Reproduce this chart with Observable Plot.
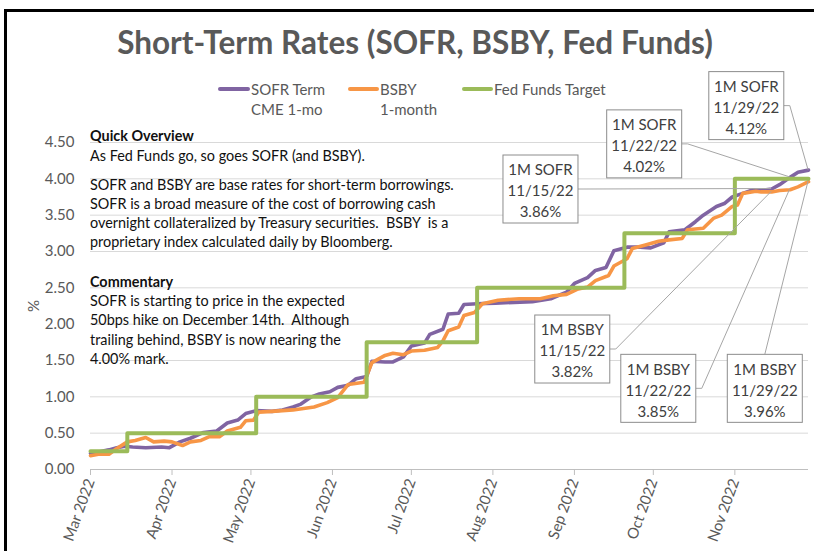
<!DOCTYPE html>
<html>
<head>
<meta charset="utf-8">
<script src="https://cdn.jsdelivr.net/npm/d3@7"></script>
<script src="https://cdn.jsdelivr.net/npm/@observablehq/plot@0.6"></script>
<style>
  html, body { margin: 0; padding: 0; background: #fff; }
  #wrap { position: relative; width: 814px; height: 551px; overflow: hidden; font-family: Lato, "Open Sans", sans-serif; }
  #frame { position: absolute; left: 4px; top: 9px; width: 820px; height: 560px; border-left: 3px solid #000; border-top: 3px solid #000; }
  #title { position: absolute; left: 0; width: 830px; top: 23px; text-align: center; font-size: 31.5px; font-weight: 700; color: #595959; white-space: nowrap; }
  .leg { position: absolute; font-size: 15px; color: #595959; line-height: 20px; white-space: nowrap; }
  .sw { position: absolute; height: 4px; border-radius: 2px; }
  .para { position: absolute; left: 90px; font-size: 14.4px; color: #111; white-space: pre; }
  .para b { font-weight: 700; }
  #chart { position: absolute; left: 0; top: 0; }
</style>
</head>
<body>
<div id="wrap">
  <div id="chart"></div>
  <div id="frame"></div>
  <div id="title">Short-Term Rates (SOFR, BSBY, Fed Funds)</div>
  <div id="legend"></div>
  <div class="para" style="top:126px; line-height:20px;"><b>Quick Overview</b>
As Fed Funds go, so goes SOFR (and BSBY).</div>
  <div class="para" style="top:175px; line-height:19px;">SOFR and BSBY are base rates for short-term borrowings.
SOFR is a broad measure of the cost of borrowing cash
overnight collateralized by Treasury securities.  BSBY  is a
proprietary index calculated daily by Bloomberg.</div>
  <div class="para" style="top:272px; line-height:19.2px;"><b>Commentary</b>
SOFR is starting to price in the expected
50bps hike on December 14th.  Although
trailing behind, BSBY is now nearing the
4.00% mark.</div>
</div>
<script>
// ---------- data ----------
const sofrDates = ["2022-03-01","2022-03-04","2022-03-08","2022-03-11","2022-03-14","2022-03-17","2022-03-22","2022-03-28","2022-03-31",
  "2022-04-04","2022-04-08","2022-04-13","2022-04-18","2022-04-22","2022-04-26","2022-04-29",
  "2022-05-03","2022-05-09","2022-05-13","2022-05-17","2022-05-20","2022-05-24","2022-05-27","2022-05-31",
  "2022-06-03","2022-06-07","2022-06-10","2022-06-14","2022-06-16","2022-06-21","2022-06-24","2022-06-28",
  "2022-07-01","2022-07-06","2022-07-08","2022-07-13","2022-07-15","2022-07-19","2022-07-21","2022-07-26",
  "2022-08-02","2022-08-09","2022-08-16","2022-08-23","2022-08-29",
  "2022-09-01","2022-09-06","2022-09-09","2022-09-13","2022-09-16","2022-09-21","2022-09-26","2022-09-30",
  "2022-10-05","2022-10-07","2022-10-13","2022-10-17","2022-10-20","2022-10-25","2022-10-28","2022-10-31",
  "2022-11-04","2022-11-08","2022-11-11","2022-11-15","2022-11-18","2022-11-22","2022-11-25","2022-11-29"];
const sofrValues = [0.22,0.24,0.27,0.30,0.32,0.31,0.30,0.31,0.30,
  0.38,0.43,0.51,0.53,0.64,0.68,0.77,
  0.81,0.80,0.82,0.86,0.90,1.00,1.04,1.07,
  1.13,1.16,1.25,1.28,1.49,1.48,1.48,1.55,
  1.70,1.74,1.86,1.93,2.14,2.15,2.27,2.28,
  2.29,2.30,2.31,2.35,2.44,
  2.56,2.64,2.74,2.78,3.01,3.06,3.06,3.05,
  3.12,3.27,3.30,3.41,3.50,3.62,3.66,3.75,
  3.80,3.85,3.84,3.86,3.92,4.02,4.09,4.12];

const bsbyDates = ["2022-03-01","2022-03-04","2022-03-08","2022-03-11","2022-03-15","2022-03-18","2022-03-22","2022-03-25","2022-03-29",
  "2022-04-01","2022-04-05","2022-04-08","2022-04-12","2022-04-15","2022-04-19","2022-04-22","2022-04-27","2022-04-29",
  "2022-05-02","2022-05-04","2022-05-09","2022-05-17","2022-05-25","2022-05-30",
  "2022-06-03","2022-06-07","2022-06-13","2022-06-16","2022-06-21","2022-06-24","2022-06-28",
  "2022-07-01","2022-07-06","2022-07-11","2022-07-13","2022-07-15","2022-07-19","2022-07-21","2022-07-25","2022-07-28",
  "2022-08-03","2022-08-11","2022-08-19","2022-08-24","2022-08-29",
  "2022-09-02","2022-09-06","2022-09-09","2022-09-14","2022-09-16","2022-09-21","2022-09-23","2022-09-28",
  "2022-10-03","2022-10-07","2022-10-12","2022-10-14","2022-10-20","2022-10-24","2022-10-27","2022-10-31",
  "2022-11-02","2022-11-04","2022-11-09","2022-11-11","2022-11-15","2022-11-18","2022-11-22","2022-11-25","2022-11-29"];
const bsbyValues = [0.19,0.21,0.21,0.29,0.38,0.40,0.44,0.38,0.39,
  0.38,0.33,0.38,0.40,0.45,0.45,0.53,0.58,0.67,
  0.68,0.79,0.80,0.82,0.86,0.92,
  0.99,1.17,1.20,1.47,1.57,1.60,1.58,
  1.63,1.64,1.68,1.77,1.91,1.96,2.12,2.16,2.28,
  2.33,2.35,2.35,2.39,2.41,
  2.48,2.51,2.60,2.67,2.80,2.90,3.04,3.09,
  3.14,3.16,3.18,3.30,3.32,3.46,3.50,3.62,
  3.64,3.80,3.83,3.82,3.82,3.84,3.85,3.89,3.96];

const fedDates = ["2022-03-01","2022-03-15","2022-05-03","2022-06-14","2022-07-26","2022-09-20","2022-11-01","2022-11-29"];
const fedValues = [0.25,0.50,1.00,1.75,2.50,3.25,4.00,4.00];

const yTicks = [0,0.5,1,1.5,2,2.5,3,3.5,4,4.5];
const monthTicks = ["2022-03-01","2022-04-01","2022-05-01","2022-06-01","2022-07-01","2022-08-01","2022-09-01","2022-10-01","2022-11-01"];

const seriesNames = ["SOFR Term\nCME 1-mo", "BSBY\n1-month", "Fed Funds Target"];
const seriesColors = ["#8064A2", "#F79646", "#9BBB59"];

// annotation content
const annSeries = ["SOFR","SOFR","SOFR","BSBY","BSBY","BSBY"];
const annDates = ["2022-11-29","2022-11-22","2022-11-15","2022-11-15","2022-11-22","2022-11-29"];
const annLabels = ["11/29/22","11/22/22","11/15/22","11/15/22","11/22/22","11/29/22"];
const annValues = [4.12,4.02,3.86,3.82,3.85,3.96];

// annotation layout (pixel offsets of box centre / top relative to the point)
const annLayout = [
  {dx:-61.7, dy:-98, side:"right"},
  {dx:-145.4, dy:-67, side:"right"},
  {dx:-230.7, dy:-33.5, side:"right"},
  {dx:-198.9, dy:123.6, side:"right"},
  {dx:-131.3, dy:165.1, side:"right"},
  {dx:-43.2, dy:173.1, side:"top"}
];

// ---------- build ----------
const parse = d3.utcParse("%Y-%m-%d");
const sofr = sofrDates.map((d,i) => ({date: parse(d), value: sofrValues[i]}));
const bsby = bsbyDates.map((d,i) => ({date: parse(d), value: bsbyValues[i]}));
const fed = fedDates.map((d,i) => ({date: parse(d), value: fedValues[i]}));

const plot = Plot.plot({
  width: 814,
  height: 551,
  marginLeft: 90,
  marginRight: 6,
  marginTop: 142,
  marginBottom: 82,
  style: {fontFamily: "Lato, 'Open Sans', sans-serif", fontSize: "15px", color: "#595959", background: "transparent"},
  x: {type: "utc", domain: [parse("2022-03-01"), parse("2022-11-29")]},
  y: {domain: [0, 4.5]},
  marks: [
    Plot.gridY(yTicks, {stroke: "#d9d9d9", strokeOpacity: 1}),
    Plot.ruleY([0], {stroke: "#bfbfbf"}),
    Plot.axisY({ticks: yTicks, tickFormat: d3.format(".2f"), tickSize: 0, tickPadding: 16, fill: "#595959",
      label: "%", labelAnchor: "center", labelOffset: 62, labelArrow: false}),
    Plot.axisX({ticks: monthTicks.map(parse), tickFormat: d3.utcFormat("%b %Y"), tickRotate: -70, tickSize: 6,
      tickPadding: 4, stroke: "#bfbfbf", fill: "#595959", label: null}),
    Plot.line(sofr, {x: "date", y: "value", stroke: seriesColors[0], strokeWidth: 3.6}),
    Plot.line(bsby, {x: "date", y: "value", stroke: seriesColors[1], strokeWidth: 3.6}),
    Plot.line(fed, {x: "date", y: "value", curve: "step-after", stroke: seriesColors[2], strokeWidth: 4})
  ]
});
document.getElementById("chart").appendChild(plot);

// annotations via the plot's own scales
const sx = plot.scale("x"), sy = plot.scale("y");
const g = d3.select(plot).append("g").attr("font-family", "Lato, 'Open Sans', sans-serif").attr("font-size", 15);
const boxW = 75, boxH = 68;
annDates.forEach((d, i) => {
  const px = sx.apply(parse(d)), py = sy.apply(annValues[i]);
  const L = annLayout[i];
  const cx = px + L.dx, top = py + L.dy, left = cx - boxW/2;
  let pts;
  if (L.side === "right") {
    const ay = top + 34;
    pts = [[left + boxW, ay], [left + boxW + 6, ay], [px, py]];
  } else {
    pts = [[cx, top], [px, py]];
  }
  g.append("path").attr("d", d3.line()(pts)).attr("fill", "none").attr("stroke", "#a6a6a6").attr("stroke-width", 1);
  g.append("rect").attr("x", left).attr("y", top).attr("width", boxW).attr("height", boxH)
    .attr("fill", "#fff").attr("stroke", "#8c8c8c").attr("stroke-width", 1);
  const lines = ["1M " + annSeries[i], annLabels[i], annValues[i].toFixed(2) + "%"];
  lines.forEach((t, j) => {
    g.append("text").attr("x", cx).attr("y", top + 15 + j*21).attr("dy", "0.35em")
      .attr("text-anchor", "middle").attr("fill", "#404040").text(t);
  });
});

// legend
const leg = document.getElementById("legend");
const legPos = [{sw:218, tx:251}, {sw:348, tx:380}, {sw:462, tx:494}];
seriesNames.forEach((n, i) => {
  const s = document.createElement("div");
  s.className = "sw";
  s.style.left = legPos[i].sw + "px"; s.style.top = "87px"; s.style.width = (legPos[i].tx - legPos[i].sw - 1) + "px";
  s.style.background = seriesColors[i];
  leg.appendChild(s);
  n.split("\n").forEach((t, j) => {
    const e = document.createElement("div");
    e.className = "leg";
    e.style.left = legPos[i].tx + "px"; e.style.top = (79 + j*20) + "px";
    e.textContent = t;
    leg.appendChild(e);
  });
});
</script>
</body>
</html>
